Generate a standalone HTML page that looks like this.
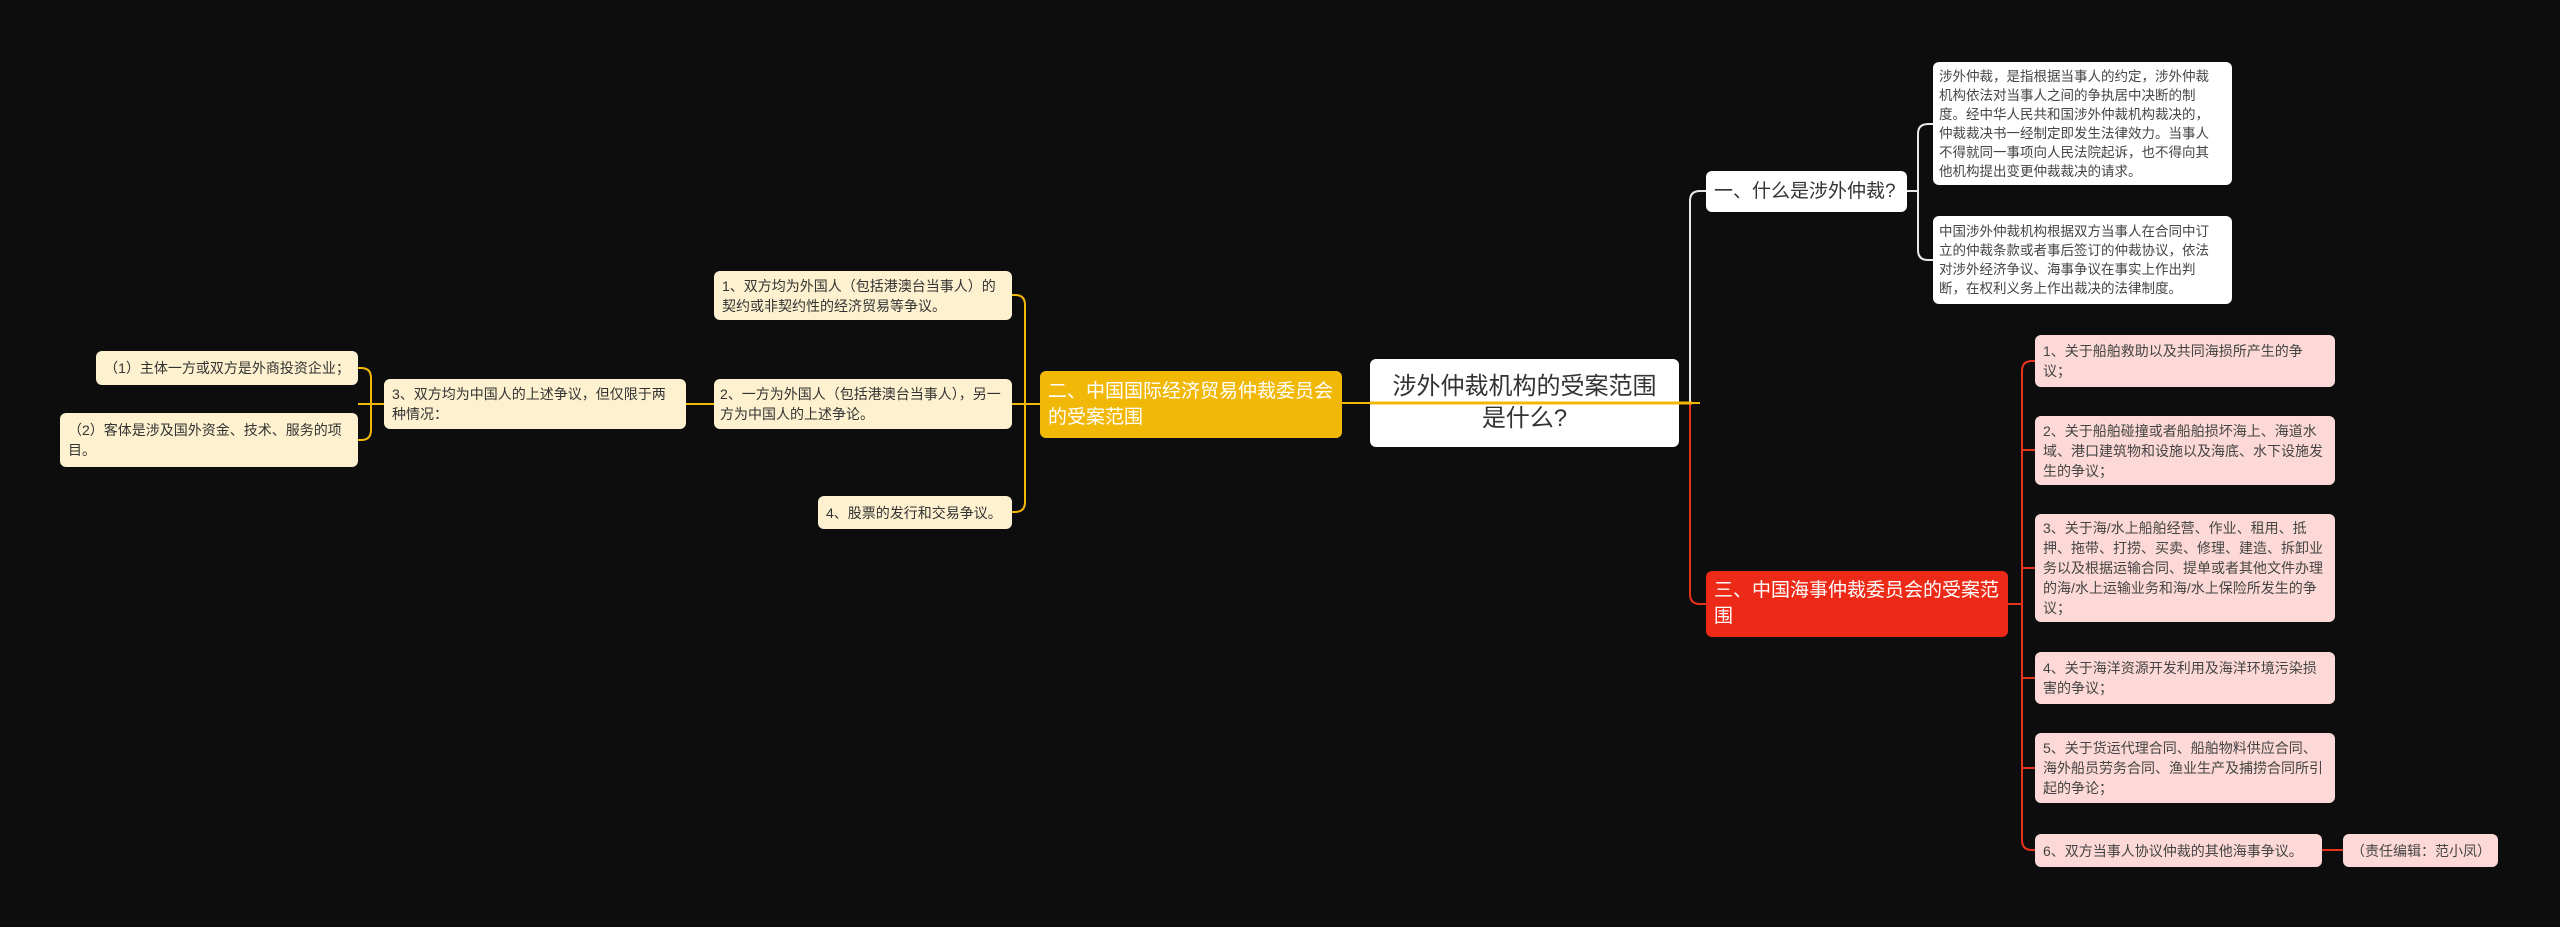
<!DOCTYPE html>
<html><head><meta charset="utf-8"><style>
body{margin:0;width:2560px;height:927px;background:#0d0d0d;overflow:hidden;position:relative;font-family:"Liberation Sans","Noto Sans CJK SC",sans-serif}
.n{position:absolute;box-sizing:border-box;border-radius:6px;font-size:14px;line-height:20px;color:#333;padding:4px 8px;display:flex;align-items:center}
.y{background:#fdf1cf}
.p{background:#fcd9d6;color:#444}
.w{background:#fff}
svg{position:absolute;left:0;top:0}
</style></head><body>
<svg width="2560" height="927" fill="none" stroke-width="2">
<g stroke="#e8e8e8">
<path d="M1690 403 V201 Q1690 191 1700 191 H1706"/>
<path d="M1907 191 H1918 M1918 191 V134 Q1918 124 1928 124 H1933 M1918 191 V250 Q1918 260 1928 260 H1933"/>
</g>
<g stroke="#e8321c">
<path d="M1679 403 H1690 V594 Q1690 604 1700 604 H1706"/>
<path d="M2008 604 H2022"/>
<path d="M2022 371 Q2022 361 2032 361 H2035 M2022 371 V840 Q2022 850 2032 850 H2035"/>
<path d="M2022 450 H2035 M2022 568 H2035 M2022 678 H2035 M2022 768 H2035"/>
<path d="M2322 850 H2343"/>
</g>
<g stroke="#f2b807">
<path d="M1342 403 H1700"/>
<path d="M1012 404 H1040"/>
<path d="M1025 404 V305 Q1025 295 1015 295 H1012 M1025 404 V502 Q1025 512 1015 512 H1012"/>
<path d="M686 404 H714"/>
<path d="M358 404 H384"/>
<path d="M371 404 V378 Q371 368 361 368 H358 M371 404 V430 Q371 440 361 440 H358"/>
</g>
</svg>
<div class="n w" style="left:1370px;top:359px;width:309px;height:88px;font-size:24px;line-height:32px;justify-content:center;text-align:center;color:#333">涉外仲裁机构的受案范围<br>是什么?</div>
<svg width="2560" height="927" fill="none" stroke-width="3"><path d="M1370 403 H1692" stroke="#f2b807"/></svg>
<div class="n w" style="left:1933px;top:62px;width:299px;height:123px;font-size:13.5px;line-height:19px;color:#444;padding:4px 12px 4px 6px">涉外仲裁，是指根据当事人的约定，涉外仲裁机构依法对当事人之间的争执居中决断的制度。经中华人民共和国涉外仲裁机构裁决的，仲裁裁决书一经制定即发生法律效力。当事人不得就同一事项向人民法院起诉，也不得向其他机构提出变更仲裁裁决的请求。</div>
<div class="n w" style="left:1933px;top:216px;width:299px;height:88px;font-size:13.5px;line-height:19px;color:#444;padding:4px 12px 4px 6px">中国涉外仲裁机构根据双方当事人在合同中订立的仲裁条款或者事后签订的仲裁协议，依法对涉外经济争议、海事争议在事实上作出判断，在权利义务上作出裁决的法律制度。</div>
<div class="n w" style="left:1706px;top:171px;width:201px;height:41px;font-size:19px;color:#333">一、什么是涉外仲裁?</div>
<div class="n" style="left:1706px;top:571px;width:302px;height:66px;background:#ec2a17;color:#fff;font-size:19px;line-height:26px">三、中国海事仲裁委员会的受案范围</div>
<div class="n p" style="left:2035px;top:335px;width:300px;height:52px">1、关于船舶救助以及共同海损所产生的争议；</div>
<div class="n p" style="left:2035px;top:416px;width:300px;height:69px">2、关于船舶碰撞或者船舶损坏海上、海道水域、港口建筑物和设施以及海底、水下设施发生的争议；</div>
<div class="n p" style="left:2035px;top:514px;width:300px;height:108px">3、关于海/水上船舶经营、作业、租用、抵押、拖带、打捞、买卖、修理、建造、拆卸业务以及根据运输合同、提单或者其他文件办理的海/水上运输业务和海/水上保险所发生的争议；</div>
<div class="n p" style="left:2035px;top:652px;width:300px;height:52px">4、关于海洋资源开发利用及海洋环境污染损害的争议；</div>
<div class="n p" style="left:2035px;top:733px;width:300px;height:70px">5、关于货运代理合同、船舶物料供应合同、海外船员劳务合同、渔业生产及捕捞合同所引起的争论；</div>
<div class="n p" style="left:2035px;top:834px;width:287px;height:33px">6、双方当事人协议仲裁的其他海事争议。</div>
<div class="n p" style="left:2343px;top:834px;width:155px;height:33px;justify-content:center">（责任编辑：范小凤）</div>
<div class="n" style="left:1040px;top:371px;width:302px;height:67px;background:#f2b807;color:#fff;font-size:19px;line-height:26px">二、中国国际经济贸易仲裁委员会的受案范围</div>
<div class="n y" style="left:714px;top:271px;width:298px;height:49px">1、双方均为外国人（包括港澳台当事人）的契约或非契约性的经济贸易等争议。</div>
<div class="n y" style="left:714px;top:379px;width:298px;height:50px;padding:4px 6px">2、一方为外国人（包括港澳台当事人），另一方为中国人的上述争论。</div>
<div class="n y" style="left:818px;top:496px;width:194px;height:33px">4、股票的发行和交易争议。</div>
<div class="n y" style="left:384px;top:379px;width:302px;height:50px">3、双方均为中国人的上述争议，但仅限于两种情况：</div>
<div class="n y" style="left:96px;top:351px;width:262px;height:34px;justify-content:center">（1）主体一方或双方是外商投资企业；</div>
<div class="n y" style="left:60px;top:413px;width:298px;height:54px">（2）客体是涉及国外资金、技术、服务的项目。</div>
</body></html>
